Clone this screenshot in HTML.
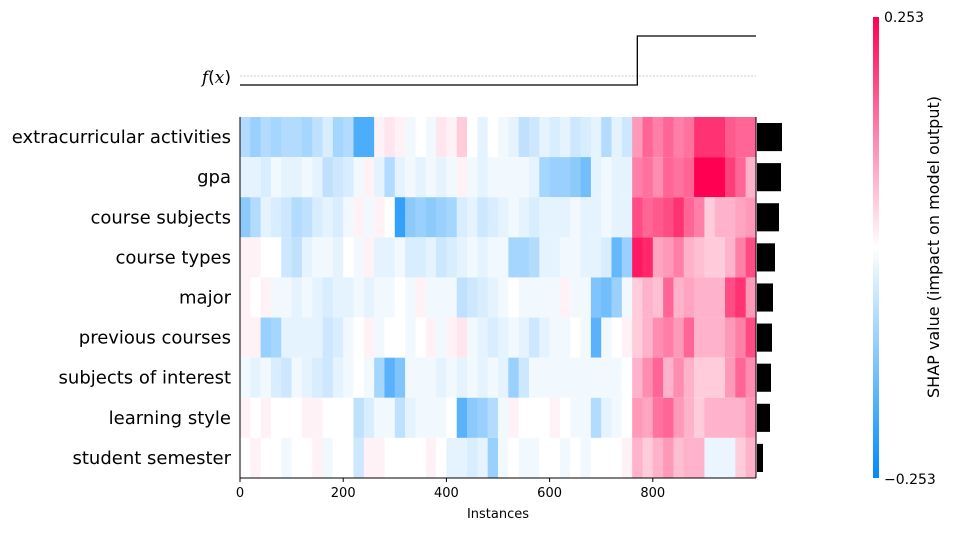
<!DOCTYPE html>
<html><head><meta charset="utf-8"><style>
body{margin:0;background:#fff;}
svg text{font-family:"DejaVu Sans","Liberation Sans",sans-serif;}
</style></head><body>
<svg id="chart" width="953" height="531" viewBox="0 0 953 531" xmlns="http://www.w3.org/2000/svg">
<defs><linearGradient id="cbg" x1="0" y1="1" x2="0" y2="0">
<stop offset="0" stop-color="rgb(0,138,250)"/><stop offset="0.5" stop-color="#fff"/><stop offset="1" stop-color="rgb(255,0,82)"/></linearGradient></defs>
<g id="heat"></g>
<g id="bars"></g>
<g id="fx"></g>
<g id="axes"></g>
<rect x="873" y="17" width="6" height="461" fill="url(#cbg)"/>
<text x="884" y="22" font-size="14">0.253</text>
<text x="884" y="484" font-size="14">−0.253</text>
<text transform="translate(939,247) rotate(-90)" text-anchor="middle" font-size="16">SHAP value (impact on model output)</text>
<text x="231" y="83" text-anchor="end" font-size="17"><tspan font-style="italic" font-family="DejaVu Serif, serif">f</tspan>(<tspan font-style="italic" font-family="DejaVu Serif, serif">x</tspan>)</text>
<text x="498" y="518" text-anchor="middle" font-size="13">Instances</text>
</svg>
<script>
const features=["extracurricular activities","gpa","course subjects","course types","major","previous courses","subjects of interest","learning style","student semester"];
const importance=[25,24,22,18,16,15,14,13,6];
const binSize=20;
const row0=[-0.3,-0.4,-0.3,-0.35,-0.3,-0.3,-0.35,-0.25,-0.15,-0.35,-0.3,-0.7,-0.7,0.05,0.1,0.05,-0.05,0,-0.05,0.1,0.05,0.2,0,-0.1,0,-0.05,-0.1,-0.25,-0.2,-0.1,-0.15,-0.1,-0.2,-0.15,-0.1,-0.3,-0.1,-0.2,0.4,0.6,0.5,0.6,0.5,0.55,0.8,0.8,0.8,0.65,0.6,0.6];
const row1=[-0.1,-0.1,-0.15,-0.05,-0.1,-0.1,-0.05,-0.1,-0.25,-0.2,-0.15,-0.05,0.05,-0.1,-0.3,-0.1,-0.05,-0.1,-0.05,-0.1,-0.05,0.05,-0.05,-0.1,-0.05,-0.05,-0.05,-0.05,-0.1,-0.35,-0.4,-0.4,-0.45,-0.55,-0.1,-0.05,-0.1,-0.1,0.5,0.55,0.45,0.6,0.55,0.6,1.0,1.0,1.0,0.75,0.6,0.3];
const row2=[-0.45,-0.3,-0.1,-0.15,-0.2,-0.3,-0.25,-0.15,-0.1,-0.15,-0.05,0.05,-0.05,0.05,0,-0.8,-0.45,-0.4,-0.45,-0.4,-0.35,-0.15,-0.1,-0.2,-0.15,-0.1,-0.05,-0.1,-0.15,-0.1,-0.1,-0.1,-0.05,-0.1,-0.1,-0.05,-0.1,-0.1,0.7,0.6,0.65,0.7,0.8,0.6,0.5,0.2,0.3,0.3,0.35,0.4];
const row3=[0.05,0.05,0,0,-0.2,-0.25,-0.1,-0.05,-0.05,-0.1,0,-0.05,0.05,-0.1,-0.1,-0.05,-0.15,-0.15,-0.1,-0.2,-0.15,-0.1,-0.05,-0.1,-0.05,-0.05,-0.35,-0.35,-0.3,-0.1,-0.1,-0.05,-0.05,-0.1,-0.1,-0.15,-0.6,-0.4,0.9,0.85,0.35,0.4,0.5,0.3,0.25,0.2,0.2,0.3,0.5,0.7];
const row4=[0.05,0,0.05,-0.05,-0.05,-0.1,-0.05,-0.1,-0.15,-0.1,-0.1,-0.05,-0.1,-0.05,-0.05,0,-0.05,0.05,-0.05,-0.05,-0.05,-0.25,-0.2,-0.15,-0.1,-0.05,0,-0.05,-0.05,-0.05,-0.05,0.05,-0.05,-0.05,-0.5,-0.55,-0.4,-0.05,0.2,0.3,0.25,0.6,0.3,0.35,0.3,0.3,0.3,0.7,0.8,0.4];
const row5=[0.05,0.05,-0.4,-0.35,-0.1,-0.1,-0.1,-0.1,-0.2,-0.15,-0.05,0,0.05,-0.05,0,0,-0.05,0,0.05,-0.05,0.05,0.1,-0.05,-0.1,-0.15,-0.1,-0.05,-0.1,-0.2,-0.1,-0.05,-0.05,0,-0.05,-0.65,-0.05,0,0.05,0.2,0.3,0.45,0.5,0.4,0.6,0.3,0.3,0.3,0.4,0.5,0.7];
const row6=[-0.05,-0.1,-0.05,-0.15,-0.2,-0.05,-0.1,-0.15,-0.2,-0.1,-0.05,0,-0.05,-0.35,-0.65,-0.5,-0.05,-0.05,-0.05,-0.1,-0.05,-0.1,-0.05,-0.1,-0.05,-0.1,-0.4,-0.2,-0.05,-0.05,-0.05,-0.05,-0.05,-0.05,-0.05,-0.05,-0.05,0,0.3,0.45,0.6,0.3,0.45,0.3,0.2,0.2,0.2,0.4,0.6,0.45];
const row7=[0.05,0,0.05,0,0,0,0.05,0.05,0,0,0,-0.25,-0.15,-0.05,-0.05,-0.25,-0.1,-0.05,-0.05,-0.05,0,-0.65,-0.45,-0.4,-0.3,-0.05,0.05,0,0,0,0.05,0,-0.05,-0.05,-0.3,-0.1,-0.05,0,0.4,0.35,0.55,0.6,0.4,0.3,0.2,0.3,0.3,0.3,0.3,0.4];
const row8=[0,0.05,0,0,-0.05,0,0,0.05,-0.05,0,0,-0.2,0.05,0.05,0,0,0,0,0.05,0,-0.1,-0.1,-0.15,-0.1,-0.4,-0.05,0,-0.05,-0.05,0,0,-0.05,0,-0.05,0,0,0,0.05,0.3,0.2,0.3,0.4,0.25,0.3,0.3,-0.08,-0.08,-0.08,0.2,0.3];
const rows=[row0,row1,row2,row3,row4,row5,row6,row7,row8];
const fxStarts=[0,770];
const fxEnds=[770,1000];
const fxVals=[-0.2,0.2];
const xTicks=[0,200,400,600,800];
const NS="http://www.w3.org/2000/svg";
const X0=240,X1=756,N=1000,Y0=117,Y1=478;
const rowH=(Y1-Y0)/features.length;
const xs=v=>X0+v*(X1-X0)/N;
function col(v){v=Math.max(-1,Math.min(1,v));let r,g,b;
 if(v>=0){r=255;g=255-255*v;b=255-173*v;}else{const t=-v;r=255-255*t;g=255-117*t;b=255-5*t;}
 return `rgb(${r|0},${g|0},${b|0})`;}
function mk(tag,attrs,parent){const e=document.createElementNS(NS,tag);for(const k in attrs)e.setAttribute(k,attrs[k]);parent.appendChild(e);return e;}
const heat=document.getElementById('heat');
rows.forEach((r,ri)=>{r.forEach((v,bi)=>{
 const x=xs(bi*binSize),w=xs((bi+1)*binSize)-x;
 const e=mk('rect',{x:x,y:Y0+ri*rowH,width:w+0.3,height:rowH,fill:col(v)},heat);
 
 
});});
const bars=document.getElementById('bars');
importance.forEach((v,i)=>{
 const e=mk('rect',{x:X1+1,y:Y0+i*rowH+6,width:v,height:rowH-12,fill:'#000'},bars);
 
 
});
const axes=document.getElementById('axes');
features.forEach((f,i)=>{
 const t=mk('text',{x:231,y:Y0+(i+0.5)*rowH+6,'text-anchor':'end','font-size':18},axes);t.textContent=f;
 
 
});
mk('line',{x1:X0,y1:Y0,x2:X0,y2:Y1,stroke:'#000','stroke-width':1},axes);
mk('line',{x1:X0,y1:Y1,x2:X1,y2:Y1,stroke:'#000','stroke-width':1},axes);
mk('line',{x1:X1,y1:Y0,x2:X1,y2:Y1,stroke:'#000','stroke-width':1},axes);
xTicks.forEach(t=>{
 mk('line',{x1:xs(t),y1:Y1,x2:xs(t),y2:Y1+4,stroke:'#000'},axes);
 const e=mk('text',{x:xs(t),y:Y1+19,'text-anchor':'middle','font-size':13},axes);e.textContent=t;
 
 
});
const fx=document.getElementById('fx');
mk('line',{x1:X0,y1:76,x2:X1,y2:76,stroke:'#bbb','stroke-width':0.8,'stroke-dasharray':'2,1.5'},fx);
let d='';
fxStarts.forEach((s,i)=>{const y=fxVals[i]>=0?36:85;d+=(i?'L':'M')+xs(s)+','+y+'L'+xs(fxEnds[i])+','+y;});
const p=mk('path',{d:d,fill:'none',stroke:'#000','stroke-width':1.3},fx);


</script>
</body></html>
